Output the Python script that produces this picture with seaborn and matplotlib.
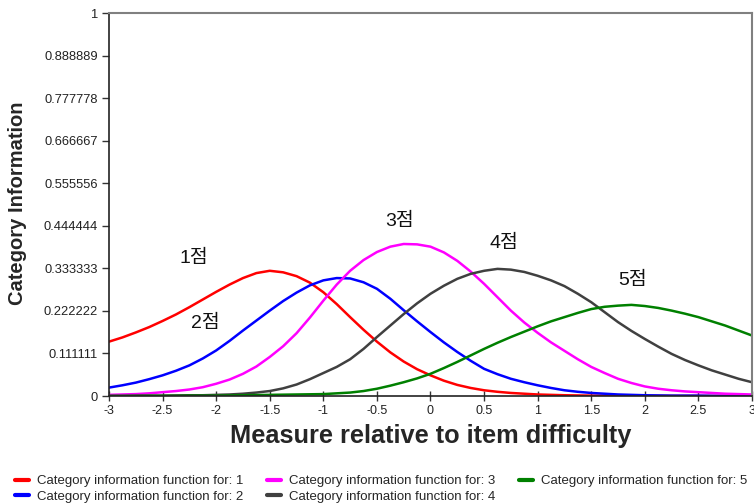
import pandas as pd
import matplotlib
matplotlib.use("Agg")
import matplotlib.pyplot as plt
import seaborn as sns

# --- Data (step 0.125) ---
measure = [-3, -2.875, -2.75, -2.625, -2.5, -2.375, -2.25, -2.125, -2, -1.875, -1.75, -1.625,
           -1.5, -1.375, -1.25, -1.125, -1, -0.875, -0.75, -0.625, -0.5, -0.375, -0.25, -0.125,
           0, 0.125, 0.25, 0.375, 0.5, 0.625, 0.75, 0.875, 1, 1.125, 1.25, 1.375,
           1.5, 1.625, 1.75, 1.875, 2, 2.125, 2.25, 2.375, 2.5, 2.625, 2.75, 2.875, 3]

info_cat1 = [.142, .153, .166, .180, .196, .213, .232, .252, .272, .291, .308, .321,
             .327, .323, .313, .296, .271, .240, .206, .173, .142, .114, .090, .070,
             .054, .040, .029, .021, .015, .011, .008, .006, .004, .003, .002, .0015,
             .001, .001, .0008, .0006, .0005, .0004, .0003, .0002, .0002, .0001, .0001, .0001, .0001]
info_cat2 = [.022, .028, .035, .044, .054, .066, .080, .098, .119, .144, .171, .197,
             .223, .248, .270, .289, .302, .308, .307, .297, .280, .254, .224, .195,
             .167, .140, .115, .092, .071, .057, .045, .036, .028, .021, .015, .011,
             .008, .006, .004, .003, .002, .0015, .001, .001, .001, .0005, .0005, .0005, .0003]
info_cat3 = [.003, .004, .005, .007, .010, .013, .017, .023, .032, .043, .058, .077,
             .102, .130, .164, .205, .249, .291, .327, .355, .376, .390, .397, .396,
             .390, .375, .353, .325, .293, .258, .223, .192, .165, .140, .118, .096,
             .076, .060, .045, .034, .025, .019, .015, .012, .010, .008, .006, .005, .004]
info_cat4 = [.0005, .0005, .001, .001, .001, .0015, .002, .002, .003, .004, .006, .009,
             .013, .020, .030, .044, .060, .076, .096, .123, .154, .184, .214, .242,
             .267, .288, .306, .319, .327, .332, .330, .324, .314, .302, .287, .267,
             .245, .219, .193, .170, .149, .129, .110, .094, .080, .067, .056, .045, .036]
info_cat5 = [0, 0, 0, .0005, .0005, .0005, .001, .001, .001, .0015, .002, .0025,
             .003, .0035, .004, .0045, .005, .007, .009, .013, .019, .027, .036, .046,
             .058, .073, .089, .106, .123, .139, .154, .168, .182, .195, .206, .217,
             .227, .233, .236, .238, .235, .230, .223, .215, .206, .195, .184, .171, .158]

series_names = [f"Category information function for: {i}" for i in range(1, 6)]
series_colors = ["#ff0000", "#0000ff", "#ff00ff", "#404040", "#008000"]

point_labels = ["1점", "2점", "3점", "4점", "5점"]
label_x = [-2.21, -2.10, -0.29, 0.69, 1.89]
label_y = [0.36, 0.19, 0.455, 0.398, 0.303]

y_ticks = [i / 9 for i in range(10)]
y_tick_labels = ["0", "0.111111", "0.222222", "0.333333", "0.444444",
                 "0.555556", "0.666667", "0.777778", "0.888889", "1"]
x_ticks = [-3, -2.5, -2, -1.5, -1, -0.5, 0, 0.5, 1, 1.5, 2, 2.5, 3]

# --- Long-form table for seaborn ---
frames = []
for name, vals in zip(series_names, [info_cat1, info_cat2, info_cat3, info_cat4, info_cat5]):
    frames.append(pd.DataFrame({"Measure": measure, "Information": vals, "Series": name}))
df = pd.concat(frames, ignore_index=True)

sns.set_style("ticks")
plt.rcParams["font.family"] = ["Liberation Sans", "Noto Sans CJK KR", "DejaVu Sans"]

fig = plt.figure(figsize=(7.54, 5.03), dpi=100)
ax = fig.add_axes([0.1446, 0.2127, 0.8527, 0.7613])

sns.lineplot(data=df, x="Measure", y="Information", hue="Series",
             palette=dict(zip(series_names, series_colors)), linewidth=1.8,
             legend=False, ax=ax)

ax.set_xlim(-3, 3)
ax.set_ylim(0, 1)
ax.set_xticks(x_ticks)
ax.set_xticklabels([f"{t:g}" for t in x_ticks], fontsize=9, color="#222222")
ax.set_yticks(y_ticks)
ax.set_yticklabels(y_tick_labels, fontsize=9.3, color="#222222")
ax.tick_params(axis="x", direction="inout", length=7, width=1, color="#333333", pad=3)
ax.tick_params(axis="y", direction="out", length=5, width=1, color="#333333", pad=3)

for side in ["left", "bottom"]:
    ax.spines[side].set_color("#222222")
    ax.spines[side].set_linewidth(1.2)
for side in ["top", "right"]:
    ax.spines[side].set_visible(True)
    ax.spines[side].set_color("#808080")
    ax.spines[side].set_linewidth(1.5)

ax.set_xlabel("Measure relative to item difficulty", fontsize=18.3, fontweight="bold", va="top")
ax.xaxis.set_label_coords(0.5, -0.072)
ax.set_ylabel("Category Information", fontsize=14.5, fontweight="bold")
ax.yaxis.set_label_coords(-0.128, 0.504)

for txt, lx, ly in zip(point_labels, label_x, label_y):
    ax.text(lx, ly, txt, fontsize=14, ha="center", va="center", color="#111111")

handles = [plt.Line2D([], [], color=c, linewidth=3) for c in series_colors]
fig.legend(handles, series_names, loc="center left", bbox_to_anchor=(0.008, 0.028),
           ncol=3, frameon=False, fontsize=9.5, handlelength=1.05, handletextpad=0.6,
           columnspacing=1.8, labelspacing=0.25, borderpad=0.2)

fig.savefig("out.png", dpi=100)
